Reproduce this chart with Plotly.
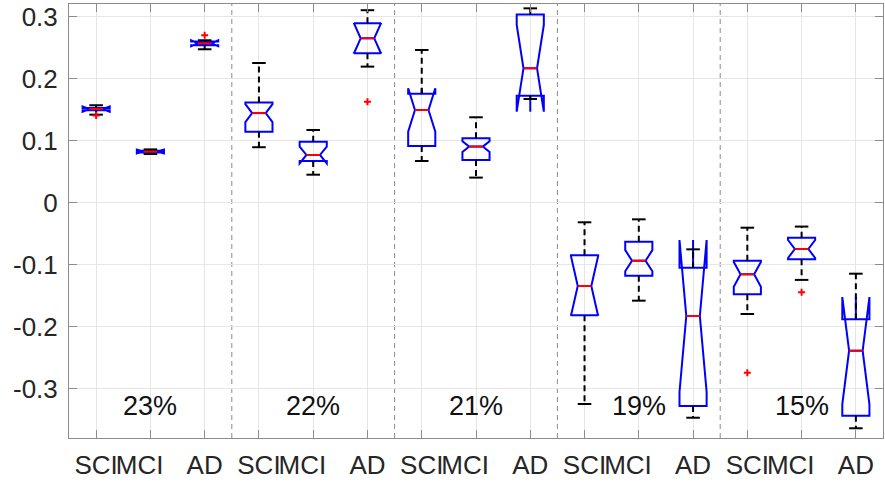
import plotly.graph_objects as go

# ---- data ----
groups = ["23%", "22%", "21%", "19%", "15%"]
categories = ["SCI", "MCI", "AD"]

lower_whisker = [0.1415, 0.0780, 0.2470,
                 0.0890, 0.0447, 0.2190,
                 0.0668, 0.0400, 0.1668,
                 -0.3252, -0.1585, -0.3473,
                 -0.1800, -0.1250, -0.3643]
q1_vals = [0.1487, 0.0805, 0.2535,
           0.1140, 0.0668, 0.2405,
           0.0910, 0.0684, 0.1720,
           -0.1821, -0.1182, -0.3284,
           -0.1482, -0.0918, -0.3440]
median_vals = [0.1505, 0.0820, 0.2566,
               0.1440, 0.0765, 0.2647,
               0.1490, 0.0900, 0.2163,
               -0.1348, -0.0940, -0.1832,
               -0.1160, -0.0752, -0.2392]
q3_vals = [0.1523, 0.0835, 0.2595,
           0.1610, 0.0980, 0.2890,
           0.1753, 0.1034, 0.3030,
           -0.0853, -0.0634, -0.1053,
           -0.0940, -0.0570, -0.1886]
upper_whisker = [0.1567, 0.0855, 0.2615,
                 0.2248, 0.1168, 0.3100,
                 0.2458, 0.1373, 0.3130,
                 -0.0321, -0.0273, -0.0757,
                 -0.0408, -0.0390, -0.1150]
notch_half = [0.0042, 0.0032, 0.0048,
              0.0145, 0.0135, 0.0245,
              0.0350, 0.0085, 0.0700,
              0.0480, 0.0170, 0.1226,
              0.0200, 0.0145, 0.0866]
outliers = [[0.1400], [], [0.2695],
            [], [], [0.1625],
            [], [], [],
            [], [], [],
            [-0.2747], [-0.1450], []]

y_ticks = [-0.3, -0.2, -0.1, 0, 0.1, 0.2, 0.3]
y_ticktext = ["-0.3", "-0.2", "-0.1", "0", "0.1", "0.2", "0.3"]

# ---- derived positions ----
n_cat = len(categories)
positions = list(range(1, len(groups) * n_cat + 1))
tick_text = []
for g in groups:
    for c in categories:
        tick_text.append(c + "\u00a0\u00a0\u00a0" if c == "MCI" else c)

BOX_W = 0.5
CAP_HALF = 0.125
MED_HALF = 0.125

fig = go.Figure()

fig.add_trace(go.Box(
    x=positions, q1=q1_vals, median=median_vals, q3=q3_vals,
    lowerfence=q1_vals, upperfence=q3_vals, notchspan=notch_half,
    notched=True, notchwidth=0.25, width=BOX_W, whiskerwidth=0,
    boxpoints=False, fillcolor="rgba(0,0,0,0)",
    line=dict(color="#0000ff", width=2), showlegend=False, hoverinfo="skip"))

# whiskers (dashed)
wx, wy = [], []
cx, cy = [], []
for p, lo, a, b, hi in zip(positions, lower_whisker, q1_vals, q3_vals, upper_whisker):
    wx += [p, p, None, p, p, None]
    wy += [b, hi, None, a, lo, None]
    cx += [p - CAP_HALF, p + CAP_HALF, None, p - CAP_HALF, p + CAP_HALF, None]
    cy += [hi, hi, None, lo, lo, None]
fig.add_trace(go.Scatter(x=wx, y=wy, mode="lines", showlegend=False, hoverinfo="skip",
                         line=dict(color="black", width=2, dash="6px,4px")))
fig.add_trace(go.Scatter(x=cx, y=cy, mode="lines", showlegend=False, hoverinfo="skip",
                         line=dict(color="black", width=2)))

# medians (red)
mx, my = [], []
for p, m in zip(positions, median_vals):
    mx += [p - MED_HALF, p + MED_HALF, None]
    my += [m, m, None]
fig.add_trace(go.Scatter(x=mx, y=my, mode="lines", showlegend=False, hoverinfo="skip",
                         line=dict(color="#ff0000", width=2)))

# outliers
ox, oy = [], []
for p, outs in zip(positions, outliers):
    for v in outs:
        ox.append(p)
        oy.append(v)
fig.add_trace(go.Scatter(x=ox, y=oy, mode="markers", showlegend=False, hoverinfo="skip",
                         marker=dict(symbol="cross-thin", size=5,
                                     line=dict(color="#ff0000", width=2))))

# group separators
for gi in range(1, len(groups)):
    xs = gi * n_cat + 0.5
    fig.add_shape(type="line", xref="x", yref="paper", x0=xs, x1=xs, y0=0, y1=1,
                  line=dict(color="#8a8a8a", width=1, dash="5px,4px"), layer="below")

# group labels
for gi, g in enumerate(groups):
    fig.add_annotation(x=gi * n_cat + 2, y=-0.328, text=g, showarrow=False,
                       xref="x", yref="y",
                       font=dict(size=27, color="#111111", family="Liberation Sans"))

axis_common = dict(showline=True, linecolor="#8c8c8c", linewidth=1, mirror="ticks",
                   ticks="inside", ticklen=8, tickcolor="#8c8c8c",
                   showgrid=True, gridcolor="#e6e6e6", gridwidth=1, zeroline=False,
                   automargin=False)

fig.update_xaxes(range=[0.5, 15.5], tickmode="array", tickvals=positions,
                 ticktext=tick_text, tickangle=0, ticklabelstandoff=4,
                 tickfont=dict(size=26, color="#262626", family="Liberation Sans"),
                 **axis_common)
fig.update_yaxes(range=[-0.38, 0.32], tickmode="array", tickvals=y_ticks,
                 ticktext=y_ticktext, ticklabelstandoff=5,
                 tickfont=dict(size=26, color="#262626", family="Liberation Sans"),
                 **axis_common)

fig.update_layout(width=885, height=486, margin=dict(l=69, r=2, t=4, b=48),
                  plot_bgcolor="white", paper_bgcolor="white")

fig.write_html("out.html")
